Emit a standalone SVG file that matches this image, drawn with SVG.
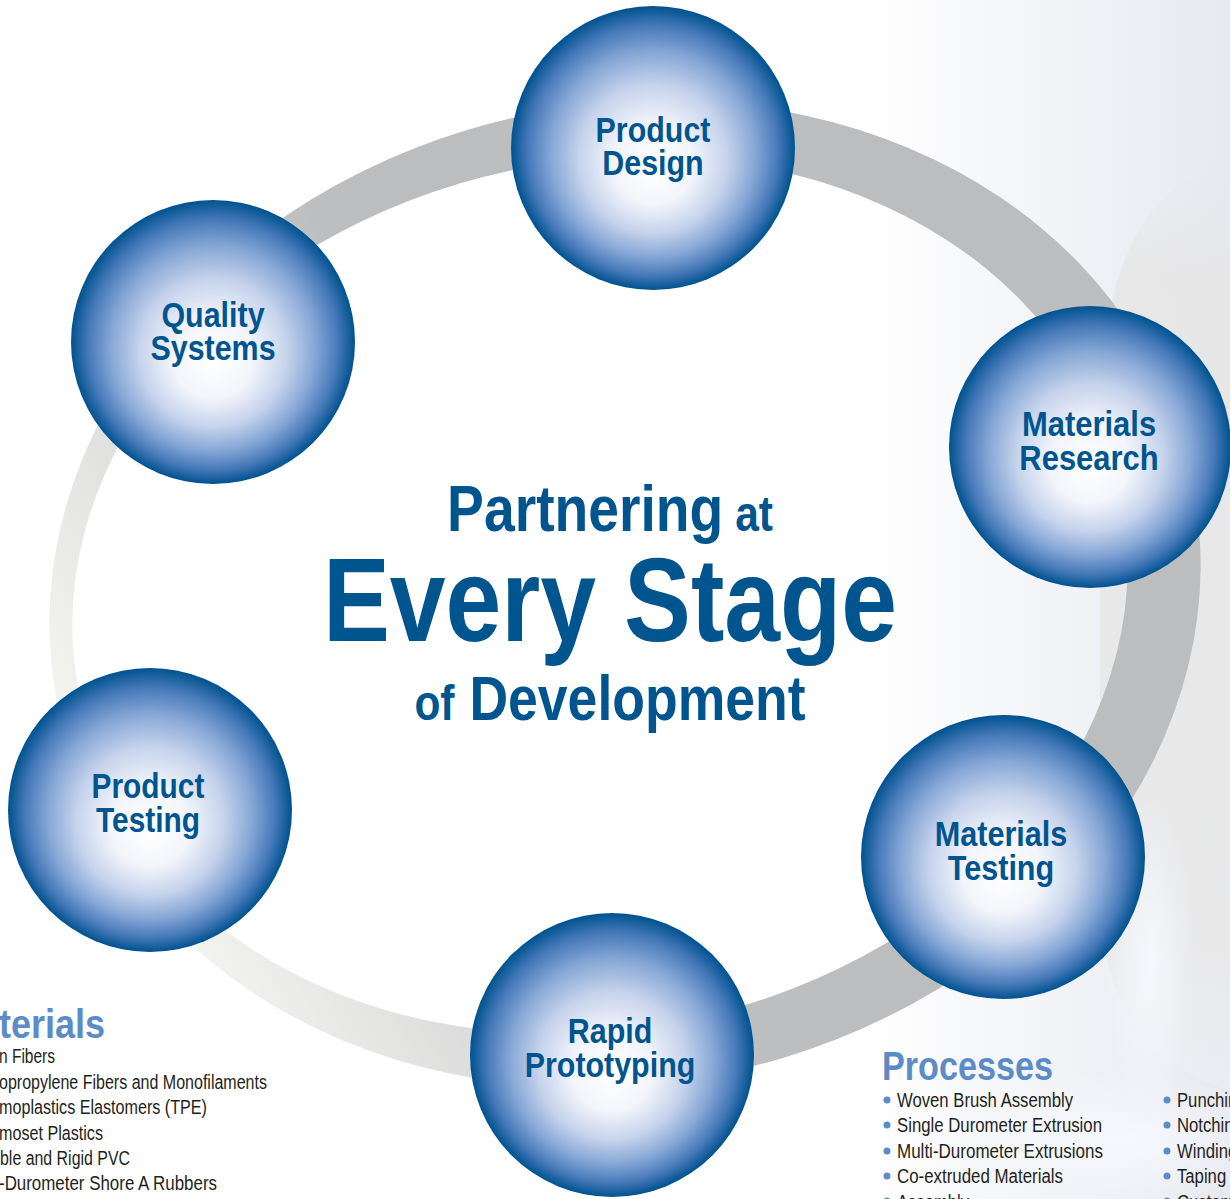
<svg xmlns="http://www.w3.org/2000/svg" width="1230" height="1199" viewBox="0 0 1230 1199">
<defs>
<linearGradient id="bg" x1="0" y1="0" x2="1230" y2="0" gradientUnits="userSpaceOnUse">
<stop offset="0" stop-color="#ffffff"/>
<stop offset="0.7" stop-color="#ffffff"/>
<stop offset="1" stop-color="#e7e9f0"/>
</linearGradient>
<linearGradient id="shade" x1="0" y1="0" x2="0" y2="1">
<stop offset="0" stop-color="#e6e6e8" stop-opacity="0"/>
<stop offset="0.12" stop-color="#e6e6e6" stop-opacity="0.85"/>
<stop offset="0.85" stop-color="#e8e8e8" stop-opacity="0.85"/>
<stop offset="1" stop-color="#eef0f4" stop-opacity="0.5"/>
</linearGradient>
<radialGradient id="glow" cx="0.5" cy="0.5" r="0.5">
<stop offset="0" stop-color="#f7f9fe" stop-opacity="0.95"/>
<stop offset="1" stop-color="#f7f9fe" stop-opacity="0"/>
</radialGradient>
<linearGradient id="ringGrad" x1="40" y1="760" x2="560" y2="480" gradientUnits="userSpaceOnUse">
<stop offset="0" stop-color="#f8f8f4"/>
<stop offset="0.3" stop-color="#e4e4e3"/>
<stop offset="0.85" stop-color="#bdbec0"/>
<stop offset="1" stop-color="#bcbdbf"/>
</linearGradient>
<radialGradient id="sphere" cx="0.5" cy="0.5" r="0.5" fx="0.5" fy="0.58">
<stop offset="0" stop-color="#ffffff"/>
<stop offset="0.28" stop-color="#f3f5fb"/>
<stop offset="0.52" stop-color="#c6d3ec"/>
<stop offset="0.72" stop-color="#86a7d6"/>
<stop offset="0.88" stop-color="#4679b9"/>
<stop offset="1" stop-color="#00528f"/>
</radialGradient>
</defs>
<style>
.lbl{font-family:"Liberation Sans",Arial,sans-serif;font-weight:bold;fill:#00558f;font-size:36px;text-anchor:middle}
.ttl{font-family:"Liberation Sans",Arial,sans-serif;font-weight:bold;fill:#00558f;text-anchor:middle}
.hd{font-family:"Liberation Sans",Arial,sans-serif;font-weight:bold;fill:#5b8cc7;font-size:40px}
.li{font-family:"Liberation Sans",Arial,sans-serif;fill:#231f20;font-size:20px}
.bul{fill:#5b8cc7}
.sph{fill:url(#sphere)}
</style>
<rect x="0" y="0" width="1230" height="1199" fill="url(#bg)"/>
<path d="M1230 160 C1150 180 1100 260 1100 420 L1100 900 C1100 1000 1150 1070 1230 1090 Z" fill="url(#shade)"/>
<ellipse cx="1150" cy="960" rx="45" ry="160" fill="url(#glow)"/>
<ellipse cx="1120" cy="1140" rx="150" ry="70" fill="url(#glow)"/>

<g id="connectors">
<path d="M59.7 714.2 A578 482 -12 1 0 1190.3 473.8 A578 482 -12 1 0 59.7 714.2 Z M81.7 705.2 A530 425 -12 1 0 1118.3 484.8 A530 425 -12 1 0 81.7 705.2 Z" fill="url(#ringGrad)" fill-rule="evenodd"/>
</g>

<g id="title">
<text class="ttl" transform="translate(610,0) scale(0.85,1)"><tspan x="0" y="531" font-size="65">Partnering<tspan font-size="50"> at</tspan></tspan><tspan x="0" y="641" font-size="118">Every Stage</tspan><tspan x="0" y="720" font-size="50">of<tspan font-size="63"> Development</tspan></tspan></text>
</g>

<g id="node-product-design">
<circle class="sph" cx="653" cy="148" r="142"/>
<text class="lbl" transform="translate(653,0) scale(0.845,1)"><tspan x="0" y="142">Product</tspan><tspan x="0" y="175">Design</tspan></text>
</g>
<g id="node-quality-systems">
<circle class="sph" cx="213" cy="342" r="142"/>
<text class="lbl" transform="translate(213,0) scale(0.845,1)"><tspan x="0" y="327">Quality</tspan><tspan x="0" y="360">Systems</tspan></text>
</g>
<g id="node-materials-research">
<circle class="sph" cx="1090" cy="447" r="141"/>
<text class="lbl" transform="translate(1089,0) scale(0.86,1)"><tspan x="0" y="436">Materials</tspan><tspan x="0" y="470">Research</tspan></text>
</g>
<g id="node-product-testing">
<circle class="sph" cx="150" cy="810" r="142"/>
<text class="lbl" transform="translate(148,0) scale(0.83,1)"><tspan x="0" y="798">Product</tspan><tspan x="0" y="832">Testing</tspan></text>
</g>
<g id="node-materials-testing">
<circle class="sph" cx="1003" cy="857" r="142"/>
<text class="lbl" transform="translate(1001,0) scale(0.85,1)"><tspan x="0" y="846">Materials</tspan><tspan x="0" y="880">Testing</tspan></text>
</g>
<g id="node-rapid-prototyping">
<circle class="sph" cx="612" cy="1055" r="142"/>
<text class="lbl" transform="translate(610,0) scale(0.845,1)"><tspan x="0" y="1043">Rapid</tspan><tspan x="0" y="1077">Prototyping</tspan></text>
</g>

<g id="materials-list">
<text class="hd" x="-1" y="1038" textLength="106" lengthAdjust="spacingAndGlyphs">terials</text>
<text class="li" x="-1" y="1063" textLength="56" lengthAdjust="spacingAndGlyphs">n Fibers</text>
<text class="li" x="-1" y="1089" textLength="268" lengthAdjust="spacingAndGlyphs">opropylene Fibers and Monofilaments</text>
<text class="li" x="-1" y="1114" textLength="208" lengthAdjust="spacingAndGlyphs">moplastics Elastomers (TPE)</text>
<text class="li" x="-1" y="1140" textLength="104" lengthAdjust="spacingAndGlyphs">moset Plastics</text>
<text class="li" x="0" y="1165" textLength="130" lengthAdjust="spacingAndGlyphs">ble and Rigid PVC</text>
<text class="li" x="-1" y="1190" textLength="218" lengthAdjust="spacingAndGlyphs">-Durometer Shore A Rubbers</text>
</g>

<g id="processes-list">
<text class="hd" x="882" y="1080" textLength="171" lengthAdjust="spacingAndGlyphs">Processes</text>
<circle class="bul" cx="887" cy="1100" r="3.5"/>
<text class="li" x="897" y="1107" textLength="176" lengthAdjust="spacingAndGlyphs">Woven Brush Assembly</text>
<circle class="bul" cx="887" cy="1125" r="3.5"/>
<text class="li" x="897" y="1132" textLength="205" lengthAdjust="spacingAndGlyphs">Single Durometer Extrusion</text>
<circle class="bul" cx="887" cy="1151" r="3.5"/>
<text class="li" x="897" y="1158" textLength="206" lengthAdjust="spacingAndGlyphs">Multi-Durometer Extrusions</text>
<circle class="bul" cx="887" cy="1176" r="3.5"/>
<text class="li" x="897" y="1183" textLength="166" lengthAdjust="spacingAndGlyphs">Co-extruded Materials</text>
<circle class="bul" cx="887" cy="1201" r="3.5"/>
<text class="li" x="897" y="1209" textLength="72" lengthAdjust="spacingAndGlyphs">Assembly</text>
<circle class="bul" cx="1167" cy="1100" r="3.5"/>
<text class="li" x="1177" y="1107" transform="translate(1177,0) scale(0.835,1) translate(-1177,0)">Punching</text>
<circle class="bul" cx="1167" cy="1125" r="3.5"/>
<text class="li" x="1177" y="1132" transform="translate(1177,0) scale(0.835,1) translate(-1177,0)">Notching</text>
<circle class="bul" cx="1167" cy="1151" r="3.5"/>
<text class="li" x="1177" y="1158" transform="translate(1177,0) scale(0.835,1) translate(-1177,0)">Winding</text>
<circle class="bul" cx="1167" cy="1176" r="3.5"/>
<text class="li" x="1177" y="1183" transform="translate(1177,0) scale(0.835,1) translate(-1177,0)">Taping</text>
<circle class="bul" cx="1167" cy="1201" r="3.5"/>
<text class="li" x="1177" y="1209" transform="translate(1177,0) scale(0.835,1) translate(-1177,0)">Custom</text>
</g>
</svg>
